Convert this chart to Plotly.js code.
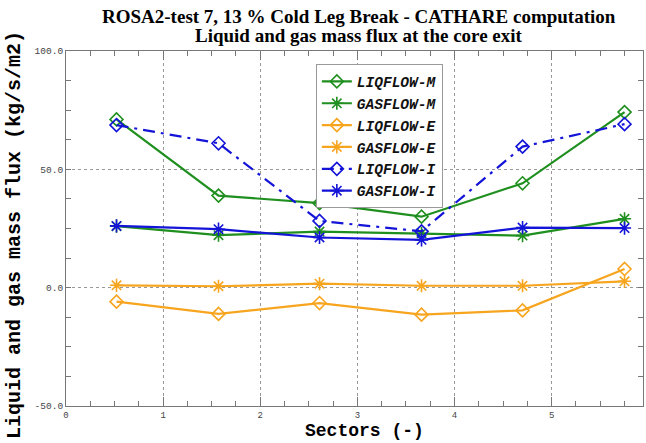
<!DOCTYPE html>
<html>
<head>
<meta charset="utf-8">
<script src="https://cdn.plot.ly/plotly-3.0.1.min.js"></script>
<style>html,body{margin:0;padding:0;background:#fff;}#chart{width:646px;height:443px;}</style>
</head>
<body>
<div id="chart"></div>
<script>
// Sector positions (x)
const sectors = [0.52, 1.57, 2.61, 3.66, 4.70, 5.75];

// Series values (kg/s/m2)
const liqflowM = [71.1, 38.9, 35.7, 30.0, 44.1, 74.2];
const gasflowM = [26.0, 22.2, 23.7, 23.0, 22.0, 29.1];
const liqflowE = [-5.9, -11.1, -6.5, -11.4, -9.6, 7.9];
const gasflowE = [1.0, 0.6, 1.7, 0.8, 0.8, 2.7];
const liqflowI = [68.7, 61.0, 28.2, 23.8, 59.6, 69.1];
const gasflowI = [26.1, 24.7, 21.2, 20.2, 25.4, 25.2];

const seriesNames = ['LIQFLOW-M', 'GASFLOW-M', 'LIQFLOW-E', 'GASFLOW-E', 'LIQFLOW-I', 'GASFLOW-I'];

const titleLines = ['ROSA2-test 7, 13 % Cold Leg Break - CATHARE computation',
                    'Liquid and gas mass flux at the core exit'];
const xTitle = 'Sectors (-)';
const yTitle = 'Liquid and gas mass flux (kg/s/m2)';

const yTickVals = [-50, 0, 50, 100];
const yTickText = ['-50.0', '0.0', '50.0', '100.0'];
const xTickVals = [0, 1, 2, 3, 4, 5];

const GREEN = '#1f8f1f';
const ORANGE = '#f7a51e';
const BLUE = '#1414d8';

function tr(name, y, color, symbol, dash) {
  return {
    x: sectors, y: y, name: name, type: 'scatter', mode: 'lines+markers',
    line: {color: color, width: 2.2, dash: dash || 'solid'},
    marker: {symbol: symbol, size: symbol.indexOf('diamond') === 0 ? 10 : 11,
             color: color, line: {color: color, width: 1.6}}
  };
}

const data = [
  tr(seriesNames[0], liqflowM, GREEN, 'diamond-open'),
  tr(seriesNames[1], gasflowM, GREEN, 'asterisk-open'),
  tr(seriesNames[2], liqflowE, ORANGE, 'diamond-open'),
  tr(seriesNames[3], gasflowE, ORANGE, 'asterisk-open'),
  tr(seriesNames[4], liqflowI, BLUE, 'diamond-open', '12px,6px,3px,6px'),
  tr(seriesNames[5], gasflowI, BLUE, 'asterisk-open')
];

const mono = 'Liberation Mono, DejaVu Sans Mono, monospace';
const serif = 'Liberation Serif, Times New Roman, serif';

const layout = {
  width: 646, height: 443,
  margin: {l: 66, r: 3, t: 51, b: 37},
  paper_bgcolor: '#fff', plot_bgcolor: '#fff',
  showlegend: true,
  annotations: [
    {text: '<b>' + titleLines[0] + '</b>', xref: 'paper', yref: 'paper', x: 0.5078, y: 1.0958,
     xanchor: 'center', yanchor: 'middle', showarrow: false,
     font: {family: serif, size: 19, color: '#000'}},
    {text: '<b>' + titleLines[1] + '</b>', xref: 'paper', yref: 'paper', x: 0.5078, y: 1.0423,
     xanchor: 'center', yanchor: 'middle', showarrow: false,
     font: {family: serif, size: 19, color: '#000'}},
    {text: '<b>' + xTitle + '</b>', xref: 'paper', yref: 'paper', x: 0.518, y: -0.1035,
     xanchor: 'center', yanchor: 'bottom', showarrow: false,
     font: {family: mono, size: 18, color: '#000'}},
    {text: '<b>' + yTitle + '</b>', xref: 'paper', yref: 'paper', x: -0.0884, y: 0.4817,
     xanchor: 'center', yanchor: 'middle', showarrow: false, textangle: -90,
     font: {family: mono, size: 20, color: '#000'}}
  ],
  xaxis: {
    range: [0, 5.94],
    tickvals: xTickVals, ticktext: xTickVals.map(String),
    ticks: 'inside', ticklen: 9, tickcolor: '#777', tickwidth: 1,
    minor: {dtick: 0.25, tick0: 0, ticks: 'inside', ticklen: 5, tickcolor: '#777', showgrid: false},
    showline: true, linecolor: '#777', linewidth: 1, mirror: 'ticks',
    showgrid: true, gridcolor: '#999', griddash: 'dot', gridwidth: 1,
    zeroline: false,
    tickfont: {family: mono, size: 9, color: '#444'}
  },
  yaxis: {
    range: [-50, 100],
    tickvals: yTickVals, ticktext: yTickText,
    ticks: 'inside', ticklen: 5, tickcolor: '#777', tickwidth: 1,
    minor: {dtick: 12.5, tick0: 0, ticks: 'inside', ticklen: 5, tickcolor: '#777', showgrid: false},
    showline: true, linecolor: '#777', linewidth: 1, mirror: 'ticks',
    showgrid: true, gridcolor: '#999', griddash: 'dot', gridwidth: 1,
    zeroline: false,
    tickfont: {family: mono, size: 9.5, color: '#444'}
  },
  legend: {
    x: 0.433, y: 0.962, xanchor: 'left', yanchor: 'top',
    bgcolor: '#fff', bordercolor: '#999', borderwidth: 1,
    font: {family: mono, size: 14.5, color: '#111', style: 'italic', weight: 'bold'},
    tracegroupgap: 0, itemwidth: 30
  }
};

Plotly.newPlot('chart', data, layout, {displayModeBar: false, staticPlot: true});
</script>
</body>
</html>
